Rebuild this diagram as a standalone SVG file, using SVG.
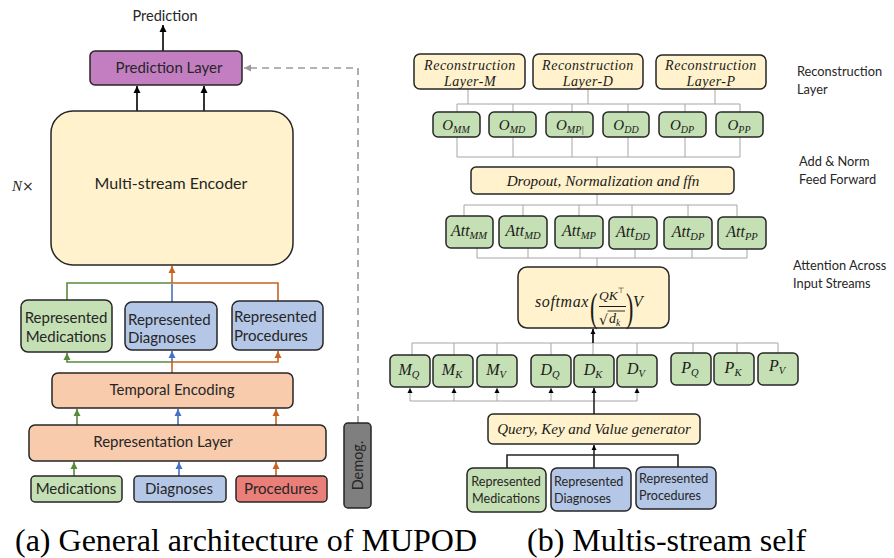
<svg xmlns="http://www.w3.org/2000/svg" width="894" height="558" viewBox="0 0 894 558">
<defs>
<style>
.bx{stroke:#262626;stroke-width:1.5}
.g{fill:#c5e0b4}
.b{fill:#b4c7e7}
.s{fill:#f8cbad}
.y{fill:#fff2cc}
.t{font-family:Lato,"Liberation Sans",sans-serif;fill:#262626}
.c{text-anchor:middle}
.m{font-family:"Liberation Serif",serif;font-style:italic;fill:#1a1a1a}
.rc{font-family:"Liberation Serif",serif;font-style:italic;fill:#1a1a1a;font-size:14px;letter-spacing:0.5px;text-anchor:middle}
.cap{font-family:"Liberation Serif","Times New Roman",serif;font-size:32px;fill:#000}
.gl{fill:none;stroke:#a6a6a6;stroke-width:1}
.dk{fill:none;stroke:#262626;stroke-width:1.6}
.kA{fill:none;stroke:#000;stroke-width:1.6}
.gA{fill:none;stroke:#5a8a3c;stroke-width:1.6}
.bA{fill:none;stroke:#4472c4;stroke-width:1.6}
.oA{fill:none;stroke:#c8631f;stroke-width:1.6}
</style>
<marker id="aK" markerUnits="userSpaceOnUse" markerWidth="8" markerHeight="8" refX="7" refY="4" orient="auto"><path d="M0,0.5 L7,4 L0,7.5 z" fill="#000"/></marker>
<marker id="aG" markerUnits="userSpaceOnUse" markerWidth="8" markerHeight="8" refX="7" refY="4" orient="auto"><path d="M0,0.5 L7,4 L0,7.5 z" fill="#5a8a3c"/></marker>
<marker id="aB" markerUnits="userSpaceOnUse" markerWidth="8" markerHeight="8" refX="7" refY="4" orient="auto"><path d="M0,0.5 L7,4 L0,7.5 z" fill="#4472c4"/></marker>
<marker id="aO" markerUnits="userSpaceOnUse" markerWidth="8" markerHeight="8" refX="7" refY="4" orient="auto"><path d="M0,0.5 L7,4 L0,7.5 z" fill="#c8631f"/></marker>
<marker id="aY" markerUnits="userSpaceOnUse" markerWidth="8" markerHeight="8" refX="7" refY="4" orient="auto"><path d="M0,0.5 L7,4 L0,7.5 z" fill="#9a9a9a"/></marker>
<marker id="aS" markerUnits="userSpaceOnUse" markerWidth="6" markerHeight="6" refX="5" refY="3" orient="auto"><path d="M0,0.5 L5,3 L0,5.5 z" fill="#000"/></marker>
</defs>
<rect width="894" height="558" fill="#fff"/>

<g id="connectors">
<path class="kA" d="M163,51 V25" marker-end="url(#aK)"/>
<path class="kA" d="M137,111 V86" marker-end="url(#aK)"/>
<path class="kA" d="M204,111 V86" marker-end="url(#aK)"/>
<path d="M358,423 V68 H244" fill="none" stroke="#9a9a9a" stroke-width="1.6" stroke-dasharray="7 5" marker-end="url(#aY)"/>
<path class="gA" d="M67,300 V283 H172"/>
<path class="bA" d="M172,302 V284"/>
<path class="oA" d="M278,301 V283 H172"/>
<path class="oA" d="M172,283 V266" marker-end="url(#aO)"/>
<path class="gA" d="M172,362 H67 V353" marker-end="url(#aG)"/>
<path class="bA" d="M172,362 V351" marker-end="url(#aB)"/>
<path class="oA" d="M172,373 V362 H278 V351" marker-end="url(#aO)"/>
<path class="gA" d="M77,425 V409" marker-end="url(#aG)"/>
<path class="bA" d="M178,425 V409" marker-end="url(#aB)"/>
<path class="oA" d="M276,425 V409" marker-end="url(#aO)"/>
<path class="gA" d="M74,476 V462" marker-end="url(#aG)"/>
<path class="bA" d="M179,476 V462" marker-end="url(#aB)"/>
<path class="oA" d="M276,476 V462" marker-end="url(#aO)"/>

<path class="gl" d="M468,89 V104 M588,89 V104 M715,89 V104 M457,104 H740 M457,104 V112 M513,104 V112 M572,104 V112 M628,104 V112 M685,104 V112 M740,104 V112"/>
<path class="gl" d="M457,137 V157 M513,137 V157 M572,137 V157 M628,137 V157 M685,137 V157 M740,137 V157 M457,157 H740 M597,157 V167"/>
<path class="gl" d="M597,194 V205 M464,205 H737 M464,205 V216 M523,205 V216 M579,205 V216 M632,205 V216 M688,205 V216 M737,205 V216"/>
<path class="gl" d="M477,248 V258 M528,248 V258 M580,248 V258 M635,248 V258 M692,248 V258 M747,248 V258 M477,258 H747 M597,258 V267"/>
<path class="gl" d="M412,343 H778 M412,343 V355 M454,343 V355 M497,343 V355 M551,343 V355 M593,343 V355 M637,343 V355 M693,343 V353 M737,343 V353 M778,343 V353"/>
<path class="kA" d="M593,343 V329" stroke-width="1.4" marker-end="url(#aS)"/>
<path class="gl" d="M410,401 H637"/>
<path class="gl" d="M410,401 V388" marker-end="url(#aS)"/>
<path class="gl" d="M454,401 V388" marker-end="url(#aS)"/>
<path class="gl" d="M497,401 V388" marker-end="url(#aS)"/>
<path class="gl" d="M551,401 V388" marker-end="url(#aS)"/>
<path class="gl" d="M637,401 V388" marker-end="url(#aS)"/>
<path class="dk" d="M594,414 V388" marker-end="url(#aS)"/>
<path class="dk" d="M507,468 V455 H678 V467 M594,468 V455"/>
<path class="dk" d="M594,455 V445" marker-end="url(#aS)"/>
</g>

<g id="prediction-label"><text class="t c" x="165" y="21" font-size="14.5">Prediction</text></g>
<g id="prediction-layer"><rect class="bx" x="90" y="51" width="152" height="34" rx="5" fill="#c27ec1"/><text class="t c" x="169" y="73" font-size="15">Prediction Layer</text></g>
<g id="encoder"><rect class="bx y" x="51" y="111" width="242" height="154" rx="22"/><text class="t c" x="171" y="189" font-size="16">Multi-stream Encoder</text></g>
<g id="nx"><text x="12" y="191" font-size="15" fill="#262626"><tspan font-family="Liberation Serif,serif" font-style="italic">N</tspan><tspan font-family="DejaVu Sans,sans-serif" font-size="14">×</tspan></text></g>
<g id="rep-med"><rect class="bx g" x="21" y="300" width="91" height="52" rx="7"/><text class="t c" x="66" y="323" font-size="15">Represented</text><text class="t c" x="66" y="342" font-size="15">Medications</text></g>
<g id="rep-diag"><rect class="bx b" x="125" y="302" width="92" height="48" rx="7"/><text class="t" x="128" y="325" font-size="15">Represented</text><text class="t" x="128" y="343" font-size="15">Diagnoses</text></g>
<g id="rep-proc"><rect class="bx b" x="232" y="301" width="91" height="49" rx="7"/><text class="t" x="234" y="322" font-size="15">Represented</text><text class="t" x="234" y="341" font-size="15">Procedures</text></g>
<g id="temporal"><rect class="bx s" x="52" y="373" width="241" height="35" rx="6"/><text class="t c" x="172" y="395" font-size="15">Temporal Encoding</text></g>
<g id="representation"><rect class="bx s" x="29" y="425" width="297" height="36" rx="6"/><text class="t c" x="163" y="447" font-size="15">Representation Layer</text></g>
<g id="medications"><rect class="bx g" x="31" y="476" width="91" height="26" rx="4"/><text class="t c" x="76" y="494" font-size="15">Medications</text></g>
<g id="diagnoses"><rect class="bx b" x="134" y="476" width="92" height="26" rx="4"/><text class="t c" x="179" y="494" font-size="15">Diagnoses</text></g>
<g id="procedures"><rect class="bx" x="236" y="476" width="91" height="26" rx="4" fill="#ea7e78"/><text class="t c" x="281" y="494" font-size="15">Procedures</text></g>
<g id="demog"><rect class="bx" x="344" y="423" width="27" height="85" rx="4" fill="#7f7f7f"/><text class="t c" transform="translate(362.5,465.5) rotate(-90)" x="0" y="0" font-size="14.5" fill="#1a1a1a">Demog.</text></g>

<g id="rec-m"><rect class="bx y" x="414" y="54" width="111" height="35" rx="6"/><text class="rc" x="470" y="69.5">Reconstruction</text><text class="rc" x="470" y="86">Layer-M</text></g>
<g id="rec-d"><rect class="bx y" x="533" y="54" width="110" height="35" rx="6"/><text class="rc" x="588" y="69.5">Reconstruction</text><text class="rc" x="588" y="86">Layer-D</text></g>
<g id="rec-p"><rect class="bx y" x="656" y="55" width="110" height="34" rx="6"/><text class="rc" x="711" y="69.5">Reconstruction</text><text class="rc" x="711" y="86">Layer-P</text></g>
<g id="label-rec"><text class="t" x="797" y="76" font-size="12.8">Reconstruction</text><text class="t" x="797" y="94" font-size="12.8">Layer</text></g>

<g id="o-mm"><rect class="bx g" x="433" y="112" width="47" height="25" rx="5"/><text class="m c" x="456" y="130" font-size="15">O<tspan font-size="10" dy="2.5">MM</tspan></text></g>
<g id="o-md"><rect class="bx g" x="489" y="112" width="47" height="25" rx="5"/><text class="m c" x="512" y="130" font-size="15">O<tspan font-size="10" dy="2.5">MD</tspan></text></g>
<g id="o-mp"><rect class="bx g" x="546" y="112" width="47" height="25" rx="5"/><text class="m c" x="570" y="130" font-size="15">O<tspan font-size="10" dy="2.5">MP|</tspan></text></g>
<g id="o-dd"><rect class="bx g" x="603" y="112" width="46" height="25" rx="5"/><text class="m c" x="626" y="130" font-size="15">O<tspan font-size="10" dy="2.5">DD</tspan></text></g>
<g id="o-dp"><rect class="bx g" x="659" y="112" width="47" height="25" rx="5"/><text class="m c" x="682" y="130" font-size="15">O<tspan font-size="10" dy="2.5">DP</tspan></text></g>
<g id="o-pp"><rect class="bx g" x="716" y="112" width="47" height="25" rx="5"/><text class="m c" x="739" y="130" font-size="15">O<tspan font-size="10" dy="2.5">PP</tspan></text></g>

<g id="dropout"><rect class="bx y" x="471" y="167" width="263" height="27" rx="5"/><text class="m c" x="603" y="186" font-size="15.2">Dropout, Normalization and ffn</text></g>
<g id="label-add"><text class="t" x="799" y="166" font-size="12.8">Add &amp; Norm</text><text class="t" x="799" y="184" font-size="12.8">Feed Forward</text></g>

<g id="att-mm"><rect class="bx g" x="446" y="216" width="47" height="32" rx="5"/><text class="m c" x="469" y="236" font-size="16">Att<tspan font-size="10.5" dy="3">MM</tspan></text></g>
<g id="att-md"><rect class="bx g" x="499" y="216" width="48" height="32" rx="5"/><text class="m c" x="523" y="236" font-size="16">Att<tspan font-size="10.5" dy="3">MD</tspan></text></g>
<g id="att-mp"><rect class="bx g" x="555" y="216" width="48" height="32" rx="5"/><text class="m c" x="579" y="236" font-size="16">Att<tspan font-size="10.5" dy="3">MP</tspan></text></g>
<g id="att-dd"><rect class="bx g" x="609" y="217" width="48" height="32" rx="5"/><text class="m c" x="633" y="237" font-size="16">Att<tspan font-size="10.5" dy="3">DD</tspan></text></g>
<g id="att-dp"><rect class="bx g" x="664" y="217" width="48" height="32" rx="5"/><text class="m c" x="688" y="237" font-size="16">Att<tspan font-size="10.5" dy="3">DP</tspan></text></g>
<g id="att-pp"><rect class="bx g" x="718" y="217" width="48" height="32" rx="5"/><text class="m c" x="742" y="237" font-size="16">Att<tspan font-size="10.5" dy="3">PP</tspan></text></g>

<g id="softmax"><rect class="bx y" x="518" y="267" width="151" height="61" rx="9"/>
<text class="m" x="535" y="307" font-size="16" letter-spacing="0.6">softmax</text>
<text x="0" y="0" font-family="Liberation Serif,serif" font-size="40" fill="#1a1a1a" transform="translate(590,321) scale(0.55,1)">(</text>
<text class="m" x="599" y="300" font-size="13.5">QK<tspan font-family="DejaVu Sans,sans-serif" font-style="normal" font-size="7.5" dy="-7">⊤</tspan></text>
<line x1="599" y1="306.5" x2="626" y2="306.5" stroke="#1a1a1a" stroke-width="1"/>
<text x="599" y="325" font-family="DejaVu Sans,sans-serif" font-size="14" fill="#1a1a1a">√</text>
<line x1="607.5" y1="311" x2="625" y2="311" stroke="#1a1a1a" stroke-width="0.9"/>
<text class="m" x="609" y="323" font-size="14">d<tspan font-size="9.5" dy="3">k</tspan></text>
<text x="0" y="0" font-family="Liberation Serif,serif" font-size="40" fill="#1a1a1a" transform="translate(626,321) scale(0.55,1)">)</text>
<text class="m" x="633" y="307" font-size="16">V</text>
</g>
<g id="label-att"><text class="t" x="793" y="270" font-size="12.8">Attention Across</text><text class="t" x="793" y="288" font-size="12.8">Input Streams</text></g>

<g id="mq"><rect class="bx g" x="390" y="355" width="40" height="32" rx="5"/><text class="m c" x="409" y="375" font-size="16">M<tspan font-size="10.5" dy="3">Q</tspan></text></g>
<g id="mk"><rect class="bx g" x="433" y="355" width="40" height="32" rx="5"/><text class="m c" x="452" y="375" font-size="16">M<tspan font-size="10.5" dy="3">K</tspan></text></g>
<g id="mv"><rect class="bx g" x="477" y="355" width="40" height="32" rx="5"/><text class="m c" x="496" y="375" font-size="16">M<tspan font-size="10.5" dy="3">V</tspan></text></g>
<g id="dq"><rect class="bx g" x="531" y="355" width="40" height="32" rx="5"/><text class="m c" x="550" y="375" font-size="16">D<tspan font-size="10.5" dy="3">Q</tspan></text></g>
<g id="dk"><rect class="bx g" x="574" y="355" width="40" height="32" rx="5"/><text class="m c" x="593" y="375" font-size="16">D<tspan font-size="10.5" dy="3">K</tspan></text></g>
<g id="dv"><rect class="bx g" x="617" y="355" width="40" height="32" rx="5"/><text class="m c" x="636" y="374" font-size="16">D<tspan font-size="10.5" dy="3">V</tspan></text></g>
<g id="pq"><rect class="bx g" x="671" y="353" width="40" height="32" rx="5"/><text class="m c" x="690" y="373" font-size="16">P<tspan font-size="10.5" dy="3">Q</tspan></text></g>
<g id="pk"><rect class="bx g" x="714" y="353" width="40" height="32" rx="5"/><text class="m c" x="733" y="373" font-size="16">P<tspan font-size="10.5" dy="3">K</tspan></text></g>
<g id="pv"><rect class="bx g" x="758" y="353" width="40" height="32" rx="5"/><text class="m c" x="777" y="371" font-size="16">P<tspan font-size="10.5" dy="3">V</tspan></text></g>

<g id="qkv"><rect class="bx y" x="488" y="414" width="212" height="30" rx="5"/><text class="m c" x="594" y="434" font-size="15">Query, Key and Value generator</text></g>

<g id="rr-med"><rect class="bx g" x="467" y="468" width="79" height="44" rx="6"/><text class="t c" x="506" y="486" font-size="12.6">Represented</text><text class="t c" x="506" y="503" font-size="12.6">Medications</text></g>
<g id="rr-diag"><rect class="bx b" x="551" y="468" width="80" height="43" rx="6"/><text class="t" x="554" y="486" font-size="12.6">Represented</text><text class="t" x="554" y="503" font-size="12.6">Diagnoses</text></g>
<g id="rr-proc"><rect class="bx b" x="636" y="467" width="80" height="42" rx="6"/><text class="t" x="639" y="483" font-size="12.6">Represented</text><text class="t" x="639" y="500" font-size="12.6">Procedures</text></g>

<g id="captions"><text class="cap" x="15" y="551">(a) General architecture of MUPOD</text><text class="cap" x="527" y="551">(b) Multis-stream self</text></g>
</svg>
